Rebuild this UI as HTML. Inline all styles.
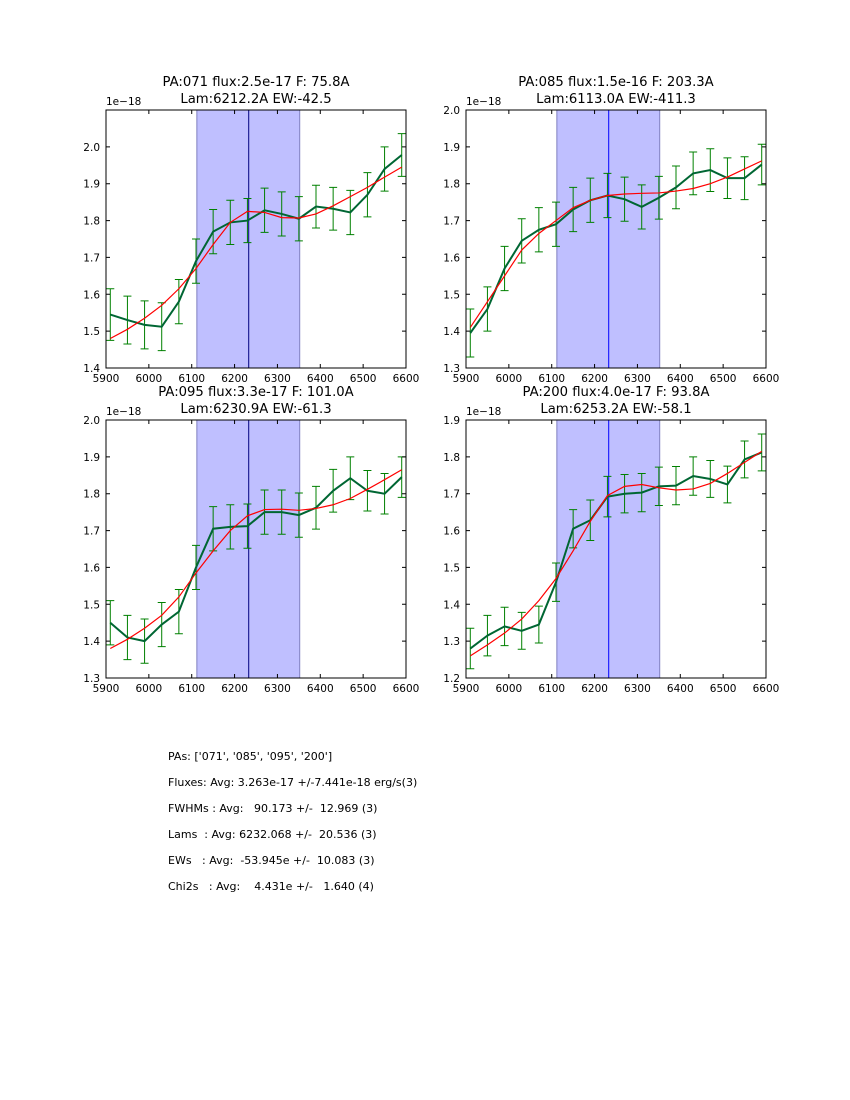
<!DOCTYPE html>
<html><head><meta charset="utf-8"><style>
body{margin:0;background:#fff;width:850px;height:1100px;overflow:hidden;font-family:"DejaVu Sans","Liberation Sans",sans-serif}
#stats{position:absolute;left:168px;top:744px;font-size:11px;white-space:pre;line-height:26px}
</style></head><body>
<svg id="fig" width="850" height="1100" style="position:absolute;left:0;top:0;font-family:'DejaVu Sans','Liberation Sans',sans-serif"></svg>
<div id="stats">PAs: ['071', '085', '095', '200']
Fluxes: Avg: 3.263e-17 +/-7.441e-18 erg/s(3)
FWHMs : Avg:   90.173 +/-  12.969 (3)
Lams  : Avg: 6232.068 +/-  20.536 (3)
EWs   : Avg:  -53.945e +/-  10.083 (3)
Chi2s   : Avg:    4.431e +/-   1.640 (4)</div>
<script>
const waves=[5910,5950,5990,6030,6070,6110,6150,6190,6230,6270,6310,6350,6390,6430,6470,6510,6550,6590];
const titles1=["PA:071 flux:2.5e-17 F: 75.8A","PA:085 flux:1.5e-16 F: 203.3A","PA:095 flux:3.3e-17 F: 101.0A","PA:200 flux:4.0e-17 F: 93.8A"];
const titles2=["Lam:6212.2A EW:-42.5","Lam:6113.0A EW:-411.3","Lam:6230.9A EW:-61.3","Lam:6253.2A EW:-58.1"];
const yMins=[1.4,1.3,1.3,1.2];
const yMaxs=[2.1,2.0,2.0,1.9];
const xTicks=[5900,6000,6100,6200,6300,6400,6500,6600];
const spanLo=6112, spanHi=6352, lineX=6233;
const obs1=[1.545,1.53,1.517,1.512,1.58,1.69,1.77,1.795,1.80,1.828,1.818,1.805,1.838,1.832,1.822,1.87,1.94,1.978];
const err1=[0.07,0.065,0.065,0.065,0.06,0.06,0.06,0.06,0.06,0.06,0.06,0.06,0.058,0.058,0.06,0.06,0.06,0.058];
const fit1=[1.48,1.505,1.535,1.57,1.615,1.67,1.735,1.795,1.825,1.822,1.808,1.807,1.818,1.84,1.865,1.89,1.918,1.945];
const obs2=[1.395,1.46,1.57,1.645,1.675,1.69,1.73,1.755,1.768,1.758,1.737,1.762,1.79,1.828,1.837,1.815,1.815,1.852];
const err2=[0.065,0.06,0.06,0.06,0.06,0.06,0.06,0.06,0.06,0.06,0.06,0.058,0.058,0.058,0.058,0.055,0.058,0.055];
const fit2=[1.41,1.48,1.55,1.62,1.665,1.7,1.735,1.755,1.768,1.772,1.774,1.775,1.78,1.787,1.8,1.818,1.84,1.862];
const obs3=[1.45,1.41,1.40,1.445,1.48,1.6,1.705,1.71,1.712,1.75,1.75,1.742,1.762,1.808,1.842,1.808,1.80,1.845];
const err3=[0.06,0.06,0.06,0.06,0.06,0.06,0.06,0.06,0.06,0.06,0.06,0.06,0.058,0.058,0.058,0.055,0.055,0.055];
const fit3=[1.38,1.405,1.435,1.47,1.52,1.585,1.645,1.7,1.74,1.757,1.758,1.755,1.76,1.77,1.787,1.812,1.838,1.865];
const obs4=[1.28,1.315,1.34,1.328,1.345,1.46,1.605,1.628,1.692,1.7,1.703,1.72,1.722,1.748,1.74,1.725,1.793,1.812];
const err4=[0.055,0.055,0.052,0.05,0.05,0.052,0.052,0.055,0.055,0.052,0.052,0.052,0.052,0.052,0.05,0.05,0.05,0.05];
const fit4=[1.26,1.29,1.322,1.36,1.41,1.47,1.545,1.625,1.695,1.72,1.725,1.716,1.71,1.713,1.728,1.755,1.785,1.815];
const obsAll=[obs1,obs2,obs3,obs4], errAll=[err1,err2,err3,err4], fitAll=[fit1,fit2,fit3,fit4];
const boxes=[[106,110],[466,110],[106,420],[466,420]];
const W=300,H=258;
const svg=document.getElementById('fig');
const NS='http://www.w3.org/2000/svg';
function mk(tag,at,parent){const e=document.createElementNS(NS,tag);for(const k in at)e.setAttribute(k,at[k]);(parent||svg).appendChild(e);return e;}
function txt(s,x,y,anchor,size,parent){const t=mk('text',{x:x,y:y,'text-anchor':anchor,'font-size':size,fill:'#000'},parent);t.textContent=s;return t;}
for(let p=0;p<4;p++){
  const [L,T]=boxes[p];const y0=yMins[p],y1=yMaxs[p];
  const g=mk('g',{});
  
  
  const X=v=>L+(v-5900)/700*W, Y=v=>T+H-(v-y0)/(y1-y0)*H;
  const sp=mk('rect',{x:X(spanLo),y:T,width:X(spanHi)-X(spanLo),height:H,fill:'#bfbfff',stroke:'#8080c0','stroke-width':1},g);
  
  
  const vl=mk('line',{x1:X(lineX),x2:X(lineX),y1:T,y2:T+H,stroke:p%2?'#0000ff':'#000080','stroke-width':1},g);
  
  
  const o=obsAll[p],e=errAll[p],f=fitAll[p];
  for(let i=0;i<waves.length;i++){
    const x=X(waves[i]);
    const eb=mk('path',{d:`M${x},${Y(o[i]-e[i])}V${Y(o[i]+e[i])}M${x-4},${Y(o[i]-e[i])}h8M${x-4},${Y(o[i]+e[i])}h8`,stroke:'#008000','stroke-width':1,fill:'none'},g);
    
    
  }
  const ol=mk('polyline',{points:waves.map((w,i)=>X(w)+','+Y(o[i])).join(' '),fill:'none',stroke:'#006633','stroke-width':2},g);
  
  
  const fl=mk('polyline',{points:waves.map((w,i)=>X(w)+','+Y(f[i])).join(' '),fill:'none',stroke:'#ff0000','stroke-width':1.2},g);
  
  
  mk('rect',{x:L,y:T,width:W,height:H,fill:'none',stroke:'#000','stroke-width':1},g);
  xTicks.forEach(v=>{const x=X(v);mk('path',{d:`M${x},${T+H}v-4M${x},${T}v4`,stroke:'#000'},g);txt(String(v),x,T+H+14,'middle',10.5,g);});
  for(let k=0;k<=7;k++){const v=y0+k*0.1;const y=Y(v);mk('path',{d:`M${L},${y}h4M${L+W},${y}h-4`,stroke:'#000'},g);
    if(!(p===0&&k===7))txt(v.toFixed(1),L-6,y+4,'end',10.5,g);}
  txt('1e\u221218',L,T-5,'start',10.5,g);
  const t1=txt(titles1[p],L+W/2,T-24,'middle',13.2,g);
  
  
  txt(titles2[p],L+W/2,T-7,'middle',13.2,g);
}
</script>
</body></html>
